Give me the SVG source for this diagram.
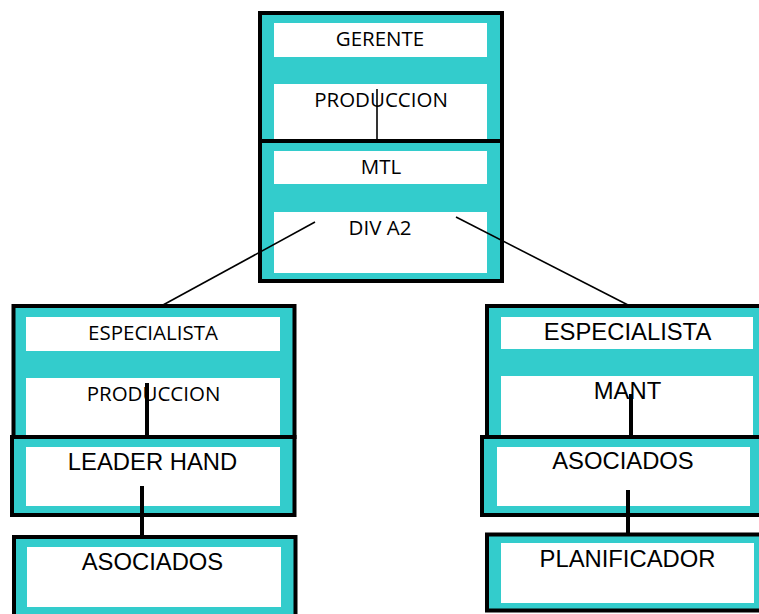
<svg xmlns="http://www.w3.org/2000/svg" width="759" height="614" viewBox="0 0 759 614">
<style>
.box{fill:#33CCCC;stroke:#000;stroke-width:4}
.w{fill:#fff}
.c{font-family:"Open Sans","Noto Sans",sans-serif;font-size:20.5px;fill:#000;text-anchor:middle}
.a{font-family:"Liberation Sans",Arial,sans-serif;font-size:23.8px;fill:#000;text-anchor:middle}
.thin{stroke:#000;stroke-width:1.6;fill:none}
.thick{stroke:#000;stroke-width:4;fill:none}
</style>
<rect width="759" height="614" fill="#fff"/>
<g id="gerente">
<rect class="box" x="260" y="13" width="242" height="128"/>
<rect class="w" x="274" y="23" width="213" height="34"/>
<rect class="w" x="274" y="84" width="213" height="55"/>
<text class="c" x="380" y="46">GERENTE</text>
<text class="c" x="381" y="107">PRODUCCION</text>
</g>
<g id="mtl">
<rect class="box" x="260" y="141" width="242" height="140"/>
<rect class="w" x="274" y="151" width="213" height="33"/>
<rect class="w" x="274" y="212" width="213" height="61"/>
<text class="c" x="381" y="174">MTL</text>
<text class="c" x="380" y="235">DIV A2</text>
</g>
<g id="especialista-produccion">
<rect class="box" x="13.5" y="306" width="281" height="131"/>
<rect class="w" x="26" y="317" width="254" height="34"/>
<rect class="w" x="26" y="378" width="254" height="57"/>
<text class="c" x="153" y="340">ESPECIALISTA</text>
<text class="c" x="153.5" y="401">PRODUCCION</text>
</g>
<g id="leader-hand">
<rect class="box" x="12" y="437" width="282.5" height="78"/>
<rect class="w" x="26" y="447" width="254" height="59"/>
<text class="a" x="152.5" y="470">LEADER HAND</text>
</g>
<g id="asociados-left">
<rect class="box" x="14" y="537" width="281.5" height="100"/>
<rect class="w" x="27" y="547" width="254" height="60"/>
<text class="a" x="152.5" y="570">ASOCIADOS</text>
</g>
<g id="especialista-mant">
<rect class="box" x="487" y="306" width="300" height="131"/>
<rect class="w" x="501" y="317" width="252" height="32"/>
<rect class="w" x="501" y="376" width="252" height="59"/>
<text class="a" x="627.5" y="340">ESPECIALISTA</text>
<text class="a" x="627.5" y="399">MANT</text>
</g>
<g id="asociados-right">
<rect class="box" x="482" y="437" width="300" height="78"/>
<rect class="w" x="497" y="447" width="253" height="59"/>
<text class="a" x="623" y="469">ASOCIADOS</text>
</g>
<g id="planificador">
<rect class="box" x="487" y="534.5" width="300" height="76"/>
<rect class="w" x="501" y="543" width="253" height="60"/>
<text class="a" x="627.5" y="567">PLANIFICADOR</text>
</g>
<g id="connectors">
<line class="thin" x1="377" y1="89" x2="377" y2="141"/>
<line class="thin" x1="315" y1="222" x2="163" y2="305"/>
<line class="thin" x1="456" y1="217" x2="628" y2="305"/>
<line class="thick" x1="147" y1="383" x2="147" y2="437"/>
<line class="thick" x1="142" y1="486" x2="142" y2="537"/>
<line class="thick" x1="631" y1="394" x2="631" y2="437"/>
<line class="thick" x1="628" y1="490" x2="628" y2="533"/>
</g>
</svg>
